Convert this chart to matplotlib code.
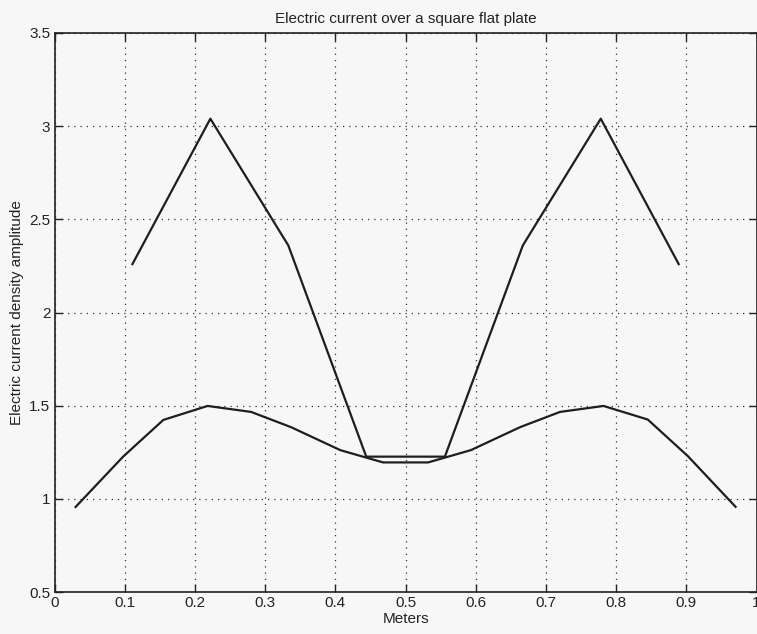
import matplotlib
matplotlib.use("Agg")
import matplotlib.pyplot as plt

# Upper curve (coarse grid)
x_upper = [0.111, 0.222, 0.333, 0.444, 0.556, 0.667, 0.778, 0.889]
y_upper = [2.26, 3.04, 2.36, 1.227, 1.227, 2.36, 3.04, 2.26]

# Lower curve (fine grid)
x_lower = [0.030, 0.098, 0.155, 0.218, 0.280, 0.337, 0.407, 0.442, 0.468,
           0.532, 0.558, 0.593, 0.663, 0.720, 0.782, 0.845, 0.902, 0.970]
y_lower = [0.957, 1.228, 1.424, 1.499, 1.467, 1.385, 1.262, 1.224, 1.196,
           1.196, 1.224, 1.262, 1.385, 1.467, 1.499, 1.426, 1.230, 0.958]

x_ticks = [0, 0.1, 0.2, 0.3, 0.4, 0.5, 0.6, 0.7, 0.8, 0.9, 1]
x_ticklabels = ["0", "0.1", "0.2", "0.3", "0.4", "0.5", "0.6", "0.7", "0.8", "0.9", "1"]
y_ticks = [0.5, 1, 1.5, 2, 2.5, 3, 3.5]
y_ticklabels = ["0.5", "1", "1.5", "2", "2.5", "3", "3.5"]

plt.rcParams['font.family'] = ['Liberation Sans', 'DejaVu Sans']

fig = plt.figure(figsize=(7.57, 6.34), dpi=100, facecolor='#f7f7f7')
ax = fig.add_axes([0.072, 0.066, 0.9275, 0.882])
ax.set_facecolor('#f7f7f7')

ax.plot(x_upper, y_upper, color='#1e1e1e', lw=1.6)
ax.plot(x_lower, y_lower, color='#1e1e1e', lw=1.6)

ax.set_xlim(0, 1)
ax.set_ylim(0.5, 3.5)
ax.set_xticks(x_ticks)
ax.set_xticklabels(x_ticklabels)
ax.set_yticks(y_ticks)
ax.set_yticklabels(y_ticklabels)
ax.tick_params(direction='in', length=6, width=1, top=True, right=True,
               labelsize=11, colors='#222222', pad=3)
for s in ax.spines.values():
    s.set_linewidth(1.2)
    s.set_color('#222222')
ax.grid(True, linestyle=(0, (1, 4)), color='#333333', linewidth=0.9)

ax.set_title("Electric current over a square flat plate", fontsize=11, color='#222222', pad=7)
ax.set_xlabel("Meters", fontsize=11, color='#222222', labelpad=1)
ax.set_ylabel("Electric current density amplitude", fontsize=11, color='#222222', labelpad=4)

fig.savefig("out.png", dpi=100, facecolor=fig.get_facecolor())
